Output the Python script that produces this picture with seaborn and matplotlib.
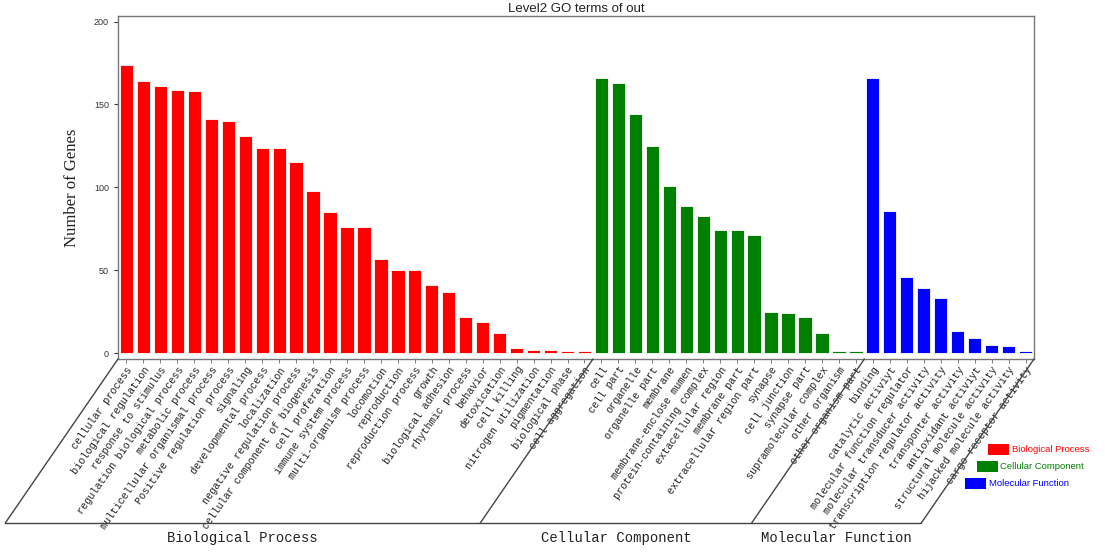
import numpy as np
import pandas as pd
import matplotlib
matplotlib.use("Agg")
import matplotlib.pyplot as plt
import seaborn as sns
from matplotlib.lines import Line2D
from matplotlib.patches import Rectangle

# Level2 GO terms
bp_terms = [
    "cellular process", "biological regulation", "response to stimulus",
    "regulation biological process", "metabolic process",
    "multicellular organismal process", "Positive regulation process",
    "signaling", "developmental process", "localization",
    "negative regulation process", "cellular component of biogenesis",
    "cell proferation", "immune system process", "multi-organism process",
    "locomotion", "reproduction", "reproduction process", "growth",
    "biological adhesion", "rhythmic process", "behavior", "detoxication",
    "cell killing", "nitrogen utilization", "pigmentation",
    "biological phase", "cell aggregation",
]
bp_counts = [174, 164, 161, 159, 158, 141, 140, 131, 124, 124, 115, 98, 85, 76,
             76, 57, 50, 50, 41, 37, 22, 19, 12, 3, 2, 2, 1, 1]

cc_terms = [
    "cell", "cell part", "organelle", "organelle part", "membrane",
    "membrane-enclose mumen", "protein-containing complex",
    "extacellular region", "membrane part", "extracellular region part",
    "synapse", "cell junction", "synapse part", "supramolecular complex",
    "other organism", "other organism part",
]
cc_counts = [166, 163, 144, 125, 101, 89, 83, 74, 74, 71, 25, 24, 22, 12, 1, 1]

mf_terms = [
    "binding", "catalytic activiyt", "molecular function regulator",
    "molecular transducer activity", "transcription regulator activity",
    "transponter activity", "antioxidant activiyt",
    "structural molecule activity", "hijacked molecule activity",
    "cargo receptor activity",
]
mf_counts = [166, 86, 46, 39, 33, 13, 9, 5, 4, 1]

groups = ["Biological Process", "Cellular Component", "Molecular Function"]
group_colors = {"Biological Process": "#FF0000",
                "Cellular Component": "#008000",
                "Molecular Function": "#0000FF"}

df = pd.DataFrame({
    "term": bp_terms + cc_terms + mf_terms,
    "count": bp_counts + cc_counts + mf_counts,
    "group": [groups[0]] * len(bp_terms) + [groups[1]] * len(cc_terms)
             + [groups[2]] * len(mf_terms),
})

sns.set_style("white")
plt.rcParams["font.family"] = ["Liberation Sans", "DejaVu Sans"]

W, H = 1105, 552
fig, ax = plt.subplots(figsize=(W / 100, H / 100), dpi=100)
fig.subplots_adjust(left=118 / W, right=1034 / W, bottom=1 - 359 / H, top=1 - 16 / H)

sns.barplot(data=df, x="term", y="count", hue="group", palette=group_colors,
            order=df["term"], dodge=False, width=0.78, edgecolor="white",
            linewidth=0.6, saturation=1, legend=False, ax=ax)

ax.set_xlim(-0.5, len(df) - 0.5)
ax.set_ylim(-3.6, 203.4)
ax.set_yticks([0, 50, 100, 150, 200])
ax.tick_params(axis="y", labelsize=6.5, colors="#333333", length=3, width=0.8, left=True)
ax.tick_params(axis="x", length=3, width=0.6, color="#666666", bottom=True, pad=1)
ax.set_xticks(range(len(df)))
ax.set_xticklabels(df["term"], rotation=55, ha="right", rotation_mode="anchor",
                   fontsize=7.4, family="Liberation Mono", color="#222222")
for s in ax.spines.values():
    s.set_visible(True)
    s.set_color("#777777")
    s.set_linewidth(1.0)

ax.set_xlabel("")
ax.set_ylabel("Number of Genes", family="Liberation Serif", fontsize=12, color="#222222")
ax.yaxis.set_label_coords(-0.042, 0.5)
ax.set_title("Level2 GO terms of out", fontsize=9.5, color="#222222", pad=3)

# group brackets under the tick labels
fig.canvas.draw()
to_fig = fig.transFigure.inverted()
drop = 164 / H
shift = 164 / np.tan(np.radians(55.5)) / W
n_bp, n_cc = len(bp_terms), len(cc_terms)
bounds = [-0.5, n_bp - 0.5, n_bp + n_cc - 0.5, len(df) - 0.5]
bottoms = []
for b in bounds:
    fx, fy = to_fig.transform(ax.transData.transform((b, ax.get_ylim()[0])))
    fig.add_artist(Line2D([fx, fx - shift], [fy, fy - drop], color="#444444",
                          lw=1.0, transform=fig.transFigure))
    bottoms.append((fx - shift, fy - drop))
fig.add_artist(Line2D([bottoms[0][0], bottoms[-1][0]], [bottoms[0][1], bottoms[-1][1]],
                      color="#444444", lw=1.0, transform=fig.transFigure))
for i, g in enumerate(groups):
    cx = (bottoms[i][0] + bottoms[i + 1][0]) / 2
    fig.text(cx, 1 - 538 / H, g, ha="center", va="center", fontsize=10,
             family="Liberation Mono", color="#222222")

# staggered legend on the right
for i, g in enumerate(groups):
    x0 = (988 - 11.5 * i) / W
    y0 = 1 - (455 + 17 * i) / H
    fig.add_artist(Rectangle((x0, y0), 21 / W, 11 / H, facecolor=group_colors[g],
                             edgecolor="none", transform=fig.transFigure))
    fig.text(x0 + 24 / W, y0 + 5.5 / H, g, ha="left", va="center", fontsize=6.8,
             color=group_colors[g])

fig.savefig("out.png", dpi=100)
